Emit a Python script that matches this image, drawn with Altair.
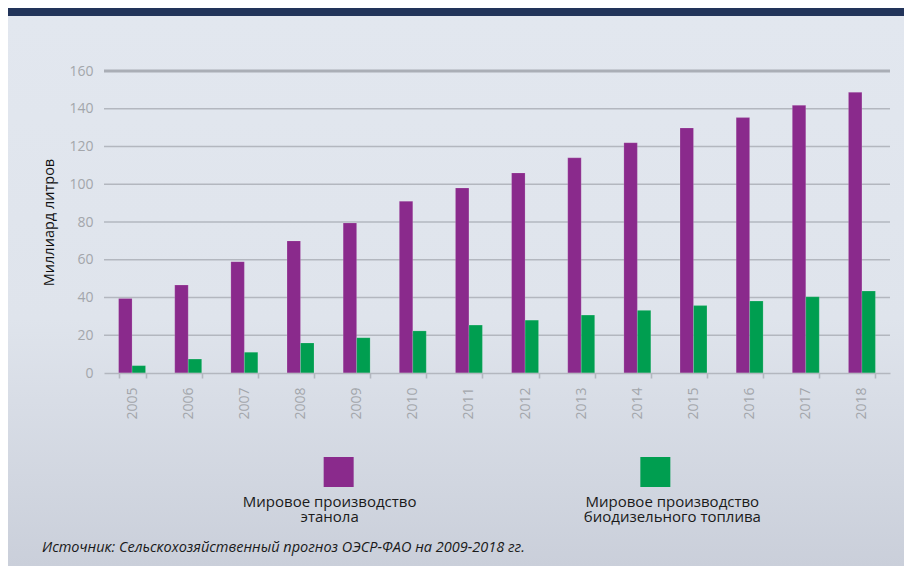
import altair as alt
import pandas as pd

# ---- data ----
years = ["2005", "2006", "2007", "2008", "2009", "2010", "2011",
         "2012", "2013", "2014", "2015", "2016", "2017", "2018"]
ethanol = [39.5, 46.6, 59.0, 70.0, 79.5, 91.0, 98.0,
           106.0, 114.0, 122.0, 129.8, 135.3, 141.8, 148.7]
biodiesel = [3.9, 7.4, 11.0, 15.9, 18.7, 22.3, 25.4,
             28.0, 30.7, 33.2, 35.7, 38.1, 40.4, 43.4]
series = ["Мировое производство этанола",
          "Мировое производство биодизельного топлива"]
legend_line1 = ["Мировое производство", "Мировое производство"]
legend_line2 = ["этанола", "биодизельного топлива"]
colors = ["#8a2a8c", "#009e50"]
y_ticks = [0, 20, 40, 60, 80, 100, 120, 140, 160]
grid_values = [20, 40, 60, 80, 100, 120, 140]
top_value = [160]
y_title = "Миллиард литров"
source = "Источник: Сельскохозяйственный прогноз ОЭСР-ФАО на 2009-2018 гг."

rows = []
for i, y in enumerate(years):
    rows.append({"year": y, "series": series[0], "value": ethanol[i]})
    rows.append({"year": y, "series": series[1], "value": biodiesel[i]})
df = pd.DataFrame(rows)
legend_df = pd.DataFrame({"series": series, "l1": legend_line1, "l2": legend_line2})
one = pd.DataFrame({"k": [0]})

FONT = "Open Sans"
W, H = 786, 302

color_enc = alt.Color("series:N", scale=alt.Scale(domain=series, range=colors), legend=None)
y_scale = alt.Scale(domain=[0, 160], nice=False)
y_axis = alt.Axis(values=y_ticks, grid=False, ticks=False, domain=False,
                  labelOverlap=False, format="d",
                  labelColor="#a3a6ab", labelFont=FONT, labelFontSize=14,
                  labelPadding=11, title=y_title, titleColor="#111111",
                  titleFont=FONT, titleFontSize=14.5, titleFontWeight="normal",
                  titlePadding=12, zindex=1)

bg = alt.Chart(one).mark_rect(
    color=alt.LinearGradient(
        gradient="linear", x1=0, x2=0, y1=0, y2=1,
        stops=[alt.GradientStop(color="#e2e7ef", offset=0),
               alt.GradientStop(color="#dfe4ec", offset=0.55),
               alt.GradientStop(color="#cacfda", offset=1)])
).encode(x=alt.value(-96), x2=alt.value(800), y=alt.value(-55), y2=alt.value(495))

band = alt.Chart(one).mark_rect(color="#22345a").encode(
    x=alt.value(-96), x2=alt.value(800), y=alt.value(-63), y2=alt.value(-55))

grid = alt.Chart(pd.DataFrame({"v": grid_values})).mark_rule(
    color="#b3b7bf", strokeWidth=1.6).encode(
    y=alt.Y("v:Q", scale=y_scale, axis=y_axis))

top_line = alt.Chart(pd.DataFrame({"v": top_value})).mark_rule(
    color="#aaaeb6", strokeWidth=3).encode(
    y=alt.Y("v:Q", scale=y_scale, axis=y_axis))

bars = alt.Chart(df).mark_bar(stroke="#ffffff", strokeOpacity=0.25, strokeWidth=0.6).encode(
    x=alt.X("year:N", sort=years, title=None,
            scale=alt.Scale(paddingInner=0.52, paddingOuter=0.26),
            axis=alt.Axis(orient="bottom", labelAngle=-90, tickBand="extent",
                          tickSize=5, tickColor="#b3b7bf", tickWidth=1.6,
                          domainColor="#b3b7bf", domainWidth=1.6,
                          labelColor="#a3a6ab", labelFont=FONT, labelFontSize=14,
                          labelPadding=9, grid=False, zindex=1)),
    xOffset=alt.XOffset("series:N", sort=series,
                        scale=alt.Scale(paddingInner=0, paddingOuter=0)),
    y=alt.Y("value:Q", scale=y_scale, axis=y_axis),
    color=color_enc,
)

leg_x = alt.X("series:N", sort=series,
              scale=alt.Scale(type="point", domain=series, padding=0.741), axis=None)

leg_sq = alt.Chart(legend_df).mark_square(size=900, opacity=1).encode(
    x=leg_x, y=alt.value(401), color=color_enc)

leg_texts = []
for s, dx in zip(series, [-9, 17]):
    for field, ypix in [("l1", 431), ("l2", 446)]:
        leg_texts.append(
            alt.Chart(legend_df).transform_filter(alt.datum.series == s).mark_text(
                baseline="middle", align="center", fontSize=15, font=FONT,
                color="#1a1a1a", dx=dx).encode(
                x=leg_x, y=alt.value(ypix), text=f"{field}:N"))

src = alt.Chart(one).mark_text(
    align="left", baseline="middle", fontSize=14.5, font=FONT, fontStyle="italic",
    color="#1a1a1a").encode(x=alt.value(-62), y=alt.value(477), text=alt.value(source))

chart = alt.layer(bg, band, grid, top_line, bars, leg_sq, *leg_texts, src).resolve_scale(
    x="independent"
).properties(width=W, height=H, padding=0, background="#ffffff").configure_view(stroke=None)

chart.save("out.html", embed_options={"renderer": "svg", "actions": False})
